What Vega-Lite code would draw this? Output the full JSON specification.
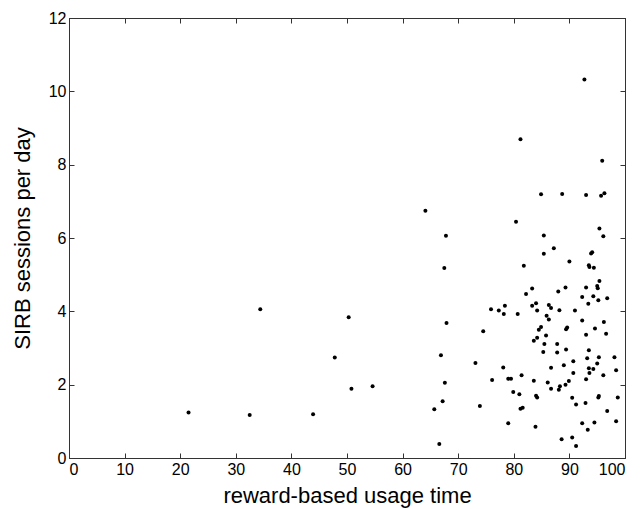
{
  "$schema": "https://vega.github.io/schema/vega-lite/v6.json",
  "width": 556,
  "height": 440,
  "autosize": "none",
  "padding": {"left": 69, "top": 18, "right": 16, "bottom": 51},
  "background": "white",
  "config": {
    "view": {"stroke": "#333", "strokeWidth": 1},
    "axis": {"grid": false, "domainColor": "#333", "tickColor": "#333", "labelFont": "Liberation Sans", "titleFont": "Liberation Sans", "labelFontSize": 16, "titleFontSize": 22, "titleFontWeight": "normal", "labelColor": "black", "titleColor": "black", "tickSize": -5, "labelPadding": 8}
  },
  "data": {"values": [
    {"x": 21.5, "y": 1.24}, {"x": 32.5, "y": 1.17}, {"x": 34.4, "y": 4.06}, {"x": 43.9, "y": 1.19},
    {"x": 47.8, "y": 2.74}, {"x": 50.3, "y": 3.84}, {"x": 50.8, "y": 1.89}, {"x": 54.6, "y": 1.96},
    {"x": 64.1, "y": 6.74}, {"x": 67.8, "y": 6.06}, {"x": 67.5, "y": 5.18}, {"x": 67.9, "y": 3.68},
    {"x": 66.9, "y": 2.8}, {"x": 67.6, "y": 2.05}, {"x": 67.2, "y": 1.55}, {"x": 65.7, "y": 1.33},
    {"x": 66.6, "y": 0.38},
    {"x": 92.7, "y": 10.32}, {"x": 81.2, "y": 8.69}, {"x": 95.9, "y": 8.11},
    {"x": 84.9, "y": 7.19}, {"x": 88.7, "y": 7.2}, {"x": 93.0, "y": 7.17}, {"x": 95.7, "y": 7.15}, {"x": 96.3, "y": 7.22},
    {"x": 80.4, "y": 6.44}, {"x": 85.4, "y": 6.07}, {"x": 95.4, "y": 6.26}, {"x": 96.1, "y": 6.05},
    {"x": 87.2, "y": 5.72}, {"x": 85.4, "y": 5.57}, {"x": 93.9, "y": 5.58}, {"x": 94.1, "y": 5.61},
    {"x": 90.0, "y": 5.36}, {"x": 81.8, "y": 5.24}, {"x": 93.5, "y": 5.26}, {"x": 93.6, "y": 5.21}, {"x": 94.4, "y": 5.19},
    {"x": 95.4, "y": 4.83}, {"x": 95.0, "y": 4.69}, {"x": 95.1, "y": 4.63}, {"x": 83.3, "y": 4.62}, {"x": 89.3, "y": 4.65},
    {"x": 93.0, "y": 4.65}, {"x": 82.2, "y": 4.47}, {"x": 88.0, "y": 4.54}, {"x": 92.3, "y": 4.39}, {"x": 94.3, "y": 4.41},
    {"x": 96.8, "y": 4.36}, {"x": 95.2, "y": 4.3}, {"x": 93.4, "y": 4.21}, {"x": 83.3, "y": 4.15}, {"x": 84.0, "y": 4.22},
    {"x": 86.3, "y": 4.17}, {"x": 86.7, "y": 4.09}, {"x": 78.4, "y": 4.15},
    {"x": 75.9, "y": 4.06}, {"x": 77.3, "y": 4.02}, {"x": 78.2, "y": 3.93}, {"x": 80.7, "y": 3.93}, {"x": 84.2, "y": 4.02},
    {"x": 88.2, "y": 4.03}, {"x": 91.0, "y": 4.02}, {"x": 74.5, "y": 3.46}, {"x": 85.9, "y": 3.88},
    {"x": 83.6, "y": 3.2}, {"x": 84.2, "y": 3.28}, {"x": 84.5, "y": 3.5}, {"x": 84.9, "y": 3.57}, {"x": 85.8, "y": 3.34},
    {"x": 85.5, "y": 3.11}, {"x": 86.3, "y": 3.78}, {"x": 89.4, "y": 3.51}, {"x": 89.6, "y": 3.56}, {"x": 92.3, "y": 3.75},
    {"x": 93.0, "y": 3.36}, {"x": 94.6, "y": 3.53}, {"x": 96.2, "y": 3.71}, {"x": 96.6, "y": 3.39},
    {"x": 73.1, "y": 2.59}, {"x": 85.3, "y": 2.89}, {"x": 87.8, "y": 3.11}, {"x": 87.8, "y": 2.88}, {"x": 89.4, "y": 2.96},
    {"x": 90.7, "y": 2.64}, {"x": 93.2, "y": 2.72}, {"x": 93.5, "y": 2.94}, {"x": 95.3, "y": 2.75}, {"x": 98.1, "y": 2.75},
    {"x": 78.1, "y": 2.47}, {"x": 81.4, "y": 2.26}, {"x": 86.7, "y": 2.46}, {"x": 89.0, "y": 2.53}, {"x": 90.7, "y": 2.32},
    {"x": 93.5, "y": 2.45}, {"x": 93.6, "y": 2.32}, {"x": 94.3, "y": 2.43}, {"x": 95.0, "y": 2.58}, {"x": 96.1, "y": 2.26},
    {"x": 98.4, "y": 2.39}, {"x": 93.0, "y": 2.15}, {"x": 76.1, "y": 2.13}, {"x": 79.0, "y": 2.16}, {"x": 79.5, "y": 2.16},
    {"x": 83.6, "y": 2.11}, {"x": 86.1, "y": 2.06}, {"x": 86.7, "y": 1.89}, {"x": 88.3, "y": 1.96}, {"x": 88.1, "y": 1.86},
    {"x": 89.3, "y": 2.0}, {"x": 89.9, "y": 2.1}, {"x": 79.9, "y": 1.8}, {"x": 81.0, "y": 1.74}, {"x": 84.0, "y": 1.7},
    {"x": 84.2, "y": 1.65}, {"x": 90.5, "y": 1.64}, {"x": 91.2, "y": 1.46}, {"x": 92.9, "y": 1.5}, {"x": 95.3, "y": 1.69},
    {"x": 95.2, "y": 1.65}, {"x": 98.7, "y": 1.65}, {"x": 73.9, "y": 1.42}, {"x": 81.2, "y": 1.34}, {"x": 81.6, "y": 1.37},
    {"x": 96.8, "y": 1.28}, {"x": 79.0, "y": 0.95}, {"x": 83.9, "y": 0.85}, {"x": 92.3, "y": 0.95}, {"x": 94.5, "y": 0.97},
    {"x": 93.3, "y": 0.77}, {"x": 98.4, "y": 1.0}, {"x": 88.6, "y": 0.51}, {"x": 90.5, "y": 0.56}, {"x": 91.2, "y": 0.33}
  ]},
  "layer": [
    {
      "mark": {"type": "circle", "size": 16, "color": "black", "opacity": 1},
      "encoding": {
        "x": {"field": "x", "type": "quantitative", "scale": {"domain": [0, 100], "nice": false}, "axis": {"title": "reward-based usage time", "values": [0,10,20,30,40,50,60,70,80,90,100], "titlePadding": 8}},
        "y": {"field": "y", "type": "quantitative", "scale": {"domain": [0, 12], "nice": false}, "axis": {"title": "SIRB sessions per day", "values": [0,2,4,6,8,10,12], "titlePadding": 14}}
      }
    },
    {
      "mark": {"type": "circle", "size": 0, "opacity": 0},
      "encoding": {
        "x": {"field": "x", "type": "quantitative", "scale": {"domain": [0, 100], "nice": false}, "axis": {"orient": "top", "labels": false, "title": null, "values": [0,10,20,30,40,50,60,70,80,90,100]}},
        "y": {"field": "y", "type": "quantitative", "scale": {"domain": [0, 12], "nice": false}, "axis": {"orient": "right", "labels": false, "title": null, "values": [0,2,4,6,8,10,12]}}
      }
    }
  ],
  "resolve": {"axis": {"x": "independent", "y": "independent"}}
}
